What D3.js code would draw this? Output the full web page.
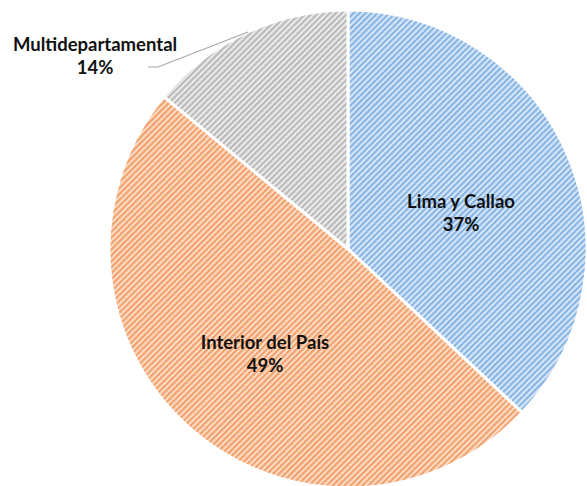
<!DOCTYPE html>
<html>
<head>
<meta charset="utf-8">
<script src="https://cdn.jsdelivr.net/npm/d3@7"></script>
<style>
  body { margin: 0; background: #fff; }
  text { font-family: Lato, "Open Sans", sans-serif; font-weight: bold; fill: #111; }
</style>
</head>
<body>
<script>
// chart data
var categories = ["Lima y Callao", "Interior del País", "Multidepartamental"];
var shares = [37, 49, 14];

var stripeColors = ["#86b4e4", "#f4a06a", "#b9b9b9"];
var backColors = ["#d8e7f8", "#fbdcc7", "#ebebeb"];

var width = 587;
var height = 486;
var cx = 348, cy = 249, radius = 239;

var svg = d3.select("body").append("svg")
    .attr("width", width)
    .attr("height", height);

// hatch patterns
var defs = svg.append("defs");
categories.forEach(function(c, i) {
  var p = defs.append("pattern")
      .attr("id", "hatch" + i)
      .attr("patternUnits", "userSpaceOnUse")
      .attr("width", 4.2)
      .attr("height", 4.2)
      .attr("patternTransform", "rotate(45)");
  p.append("rect").attr("width", 4.2).attr("height", 4.2).attr("fill", backColors[i]);
  p.append("rect").attr("width", 2.1).attr("height", 4.2).attr("fill", stripeColors[i]);
});

var pie = d3.pie().sort(null).value(function(d) { return d; });
var arc = d3.arc().innerRadius(0).outerRadius(radius);
var arcs = pie(shares);

var g = svg.append("g").attr("transform", "translate(" + cx + "," + cy + ")");

g.selectAll("path")
  .data(arcs)
  .enter()
  .append("path")
  .attr("d", arc)
  .attr("fill", function(d, i) { return "url(#hatch" + i + ")"; })
  .attr("stroke", "#fff")
  .attr("stroke-width", 3)
  .attr("stroke-linejoin", "round");

// label positions (relative to centre)
var labelPos = [[113, -30], [-83, 111], [-253, -187]];

var labels = g.selectAll("g.lbl")
  .data(arcs)
  .enter()
  .append("g")
  .attr("class", "lbl")
  .attr("transform", function(d, i) { return "translate(" + labelPos[i][0] + "," + labelPos[i][1] + ")"; });

labels.append("text")
  .attr("text-anchor", "middle")
  .attr("y", -11)
  .style("font-size", "18.5px")
  .text(function(d, i) { return categories[i]; });

labels.append("text")
  .attr("text-anchor", "middle")
  .attr("y", 12)
  .style("font-size", "18.5px")
  .text(function(d) { return d.data + "%"; });

// leader line for the small slice
g.append("polyline")
  .attr("points", [[148 - cx, 67 - cy], [158 - cx, 67 - cy], [248 - cx, 32 - cy]].map(function(p) { return p.join(","); }).join(" "))
  .attr("fill", "none")
  .attr("stroke", "#a6a6a6")
  .attr("stroke-width", 1.2);
</script>
</body>
</html>
